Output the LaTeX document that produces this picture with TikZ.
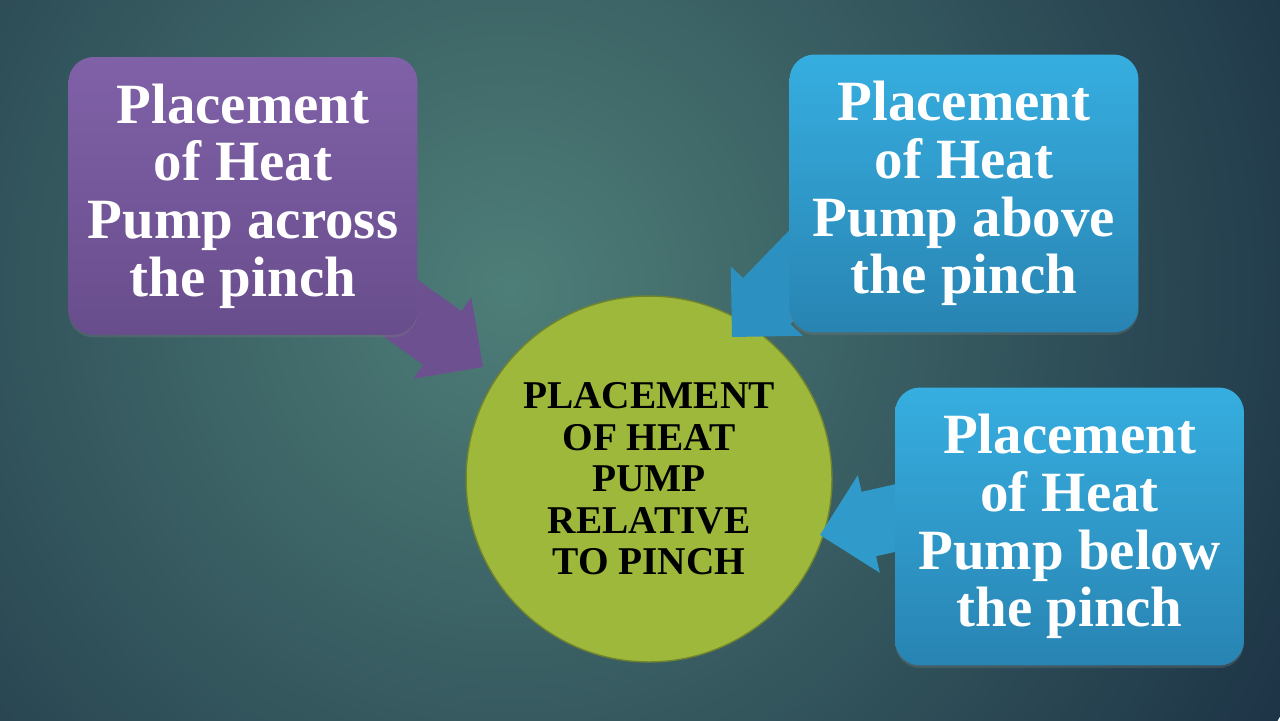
\documentclass[tikz,border=0pt]{standalone}
\usepackage{fontspec}
\setmainfont{Liberation Serif}
\usepackage{xcolor}
\usetikzlibrary{shadows}
\definecolor{bginner}{RGB}{78,126,120}
\definecolor{bgouter}{RGB}{29,52,70}
\definecolor{acrosstop}{RGB}{128,97,168}
\definecolor{acrossbot}{RGB}{104,77,140}
\definecolor{pinchblue}{RGB}{54,174,224}
\definecolor{pinchbluedark}{RGB}{40,132,178}
\definecolor{hubgreen}{RGB}{158,184,60}
\definecolor{hubedge}{RGB}{112,132,48}

\begin{document}
\begin{tikzpicture}[x=0.02cm, y=-0.02cm,
  infobox/.style={rectangle, rounded corners=0.5cm, minimum width=6.98cm, minimum height=5.56cm, align=center, text=white, font=\bfseries\fontsize{32.4}{32.8}\selectfont, drop shadow={opacity=0.3, shadow xshift=0pt, shadow yshift=-0.05cm}},
  hub/.style={circle, minimum size=7.32cm, inner sep=0pt, draw=hubedge, line width=0.8pt, fill=hubgreen, align=center, font=\bfseries\fontsize{22.4}{23.6}\selectfont}
]
\useasboundingbox (0,0) rectangle (1280,720);
% backdrop
\begin{scope}
  \clip (0,0) rectangle (1280,720);
  \shade[inner color=bginner, outer color=bgouter] (510,290) circle (880);
\end{scope}

\node[hub] (hub) at (649,479) {PLACEMENT\\OF HEAT\\PUMP\\RELATIVE\\TO PINCH};

\coordinate (acrosstip) at (483,367);
\coordinate (abovetip) at (732,337);
\coordinate (belowtip) at (820,535);

\fill[acrossbot!85!acrosstop, shift={(acrosstip)}, rotate=-35.5] (0,0) -- (-50,50) -- (-50,33) -- (-170,33) -- (-170,-33) -- (-50,-33) -- (-50,-50) -- cycle;
\fill[pinchbluedark!70!pinchblue, shift={(abovetip)}, rotate=-134] (0,0) -- (-50,50) -- (-50,33) -- (-170,33) -- (-170,-33) -- (-50,-33) -- (-50,-50) -- cycle;
\fill[pinchbluedark!45!pinchblue, shift={(belowtip)}, rotate=-167.3] (0,0) -- (-50,50) -- (-50,33) -- (-170,33) -- (-170,-33) -- (-50,-33) -- (-50,-50) -- cycle;

\node[infobox, top color=acrosstop, bottom color=acrossbot] (across) at (243,196) {Placement\\of Heat\\Pump across\\the pinch};
\node[infobox, top color=pinchblue, bottom color=pinchbluedark] (above) at (964,193.5) {Placement\\of Heat\\Pump above\\the pinch};
\node[infobox, top color=pinchblue, bottom color=pinchbluedark] (below) at (1069.5,526.5) {Placement\\of Heat\\Pump below\\the pinch};
\end{tikzpicture}
\end{document}
